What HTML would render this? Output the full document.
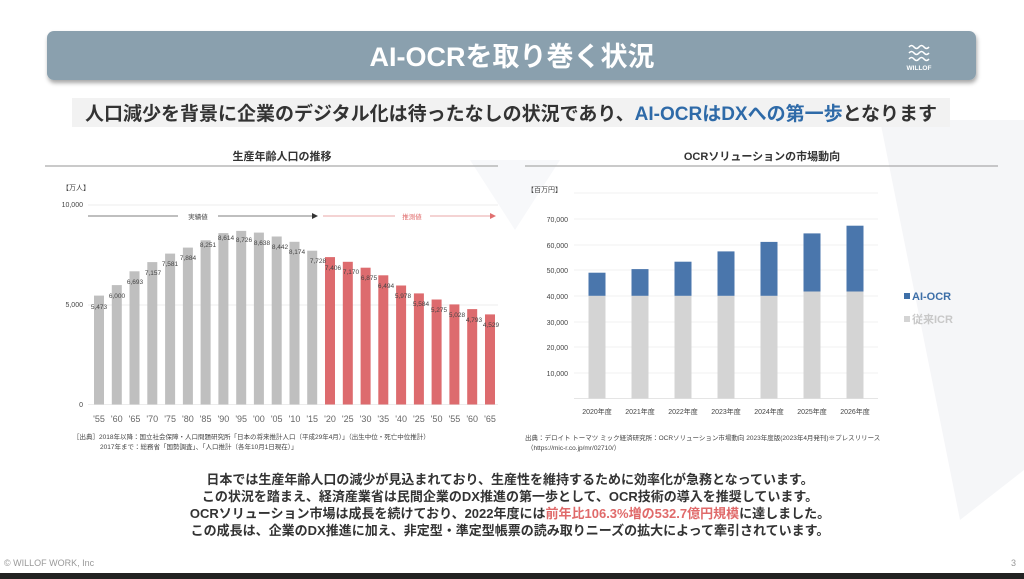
<!DOCTYPE html>
<html><head><meta charset="utf-8"><style>
html,body{margin:0;padding:0;background:#fff;width:1024px;height:579px;overflow:hidden}
svg{display:block;font-family:"Liberation Sans","Noto Sans CJK JP",sans-serif}
</style></head><body>
<svg width="1024" height="579" viewBox="0 0 1024 579">
<defs><filter id="sh" x="-5%" y="-20%" width="110%" height="160%"><feDropShadow dx="1" dy="3" stdDeviation="2" flood-color="#000" flood-opacity="0.35"/></filter></defs>
<rect width="1024" height="579" fill="#fff"/>
<polygon points="470,160 560,160 515,230" fill="#f7f8fa"/>
<polygon points="880,120 1024,120 1024,470 960,520" fill="#f5f6f8"/>
<rect x="47" y="31" width="929" height="49" rx="7" fill="#8aa0ae" filter="url(#sh)"/>
<text x="512" y="66" text-anchor="middle" font-size="27" font-weight="bold" fill="#fff">AI-OCRを取り巻く状況</text>
<g stroke="#fff" stroke-width="1.6" fill="none">
<path d="M909,47 q2.5,-3 5,0 t5,0 t5,0 t5,0"/>
<path d="M909,53 q2.5,-3 5,0 t5,0 t5,0 t5,0"/>
<path d="M909,59 q2.5,-3 5,0 t5,0 t5,0 t5,0"/>
</g>
<text x="919" y="70" text-anchor="middle" font-size="6.5" font-weight="bold" fill="#fff">WILLOF</text>
<rect x="72" y="98" width="878" height="29" fill="#f2f2f2"/>
<text x="511" y="120" text-anchor="middle" font-size="19" font-weight="bold" fill="#333">人口減少を背景に企業のデジタル化は待ったなしの状況であり、<tspan fill="#2e6aa8">AI-OCRはDXへの第一歩</tspan>となります</text>
<text x="282" y="160" text-anchor="middle" font-size="11" font-weight="bold" fill="#333">生産年齢人口の推移</text>
<line x1="45" y1="166" x2="498" y2="166" stroke="#aaa" stroke-width="1.2"/>
<text x="762" y="160" text-anchor="middle" font-size="11" font-weight="bold" fill="#333">OCRソリューションの市場動向</text>
<line x1="525" y1="166" x2="998" y2="166" stroke="#aaa" stroke-width="1.2"/>
<!-- left chart -->
<g font-size="7" fill="#444">
<text x="62" y="190">【万人】</text>
<text x="83" y="207" text-anchor="end">10,000</text>
<text x="83" y="307" text-anchor="end">5,000</text>
<text x="83" y="407" text-anchor="end">0</text>
</g>
<g stroke="#e6e6e6" stroke-width="0.8"><line x1="88" y1="205" x2="498" y2="205"/><line x1="88" y1="305" x2="498" y2="305"/><line x1="88" y1="404.5" x2="498" y2="404.5"/></g>
<line x1="88" y1="216" x2="178" y2="216" stroke="#555" stroke-width="0.7"/>
<line x1="218" y1="216" x2="312" y2="216" stroke="#555" stroke-width="0.7"/>
<polygon points="312,213 318,216 312,219" fill="#333"/>
<text x="198" y="219" text-anchor="middle" font-size="6.5" fill="#444">実績値</text>
<line x1="323" y1="216" x2="395" y2="216" stroke="#e08a8a" stroke-width="0.7"/>
<line x1="430" y1="216" x2="490" y2="216" stroke="#e08a8a" stroke-width="0.7"/>
<polygon points="490,213 496,216 490,219" fill="#e07070"/>
<text x="412" y="219" text-anchor="middle" font-size="6.5" fill="#e06a6a">推測値</text>
<g fill="#bfbfbf">
<rect x="94" y="295.6" width="10" height="108.9"/>
<rect x="111.8" y="285.1" width="10" height="119.4"/>
<rect x="129.5" y="271.3" width="10" height="133.2"/>
<rect x="147.3" y="262.1" width="10" height="142.4"/>
<rect x="165.1" y="253.6" width="10" height="150.9"/>
<rect x="182.9" y="247.6" width="10" height="156.9"/>
<rect x="200.6" y="240.3" width="10" height="164.2"/>
<rect x="218.4" y="233.1" width="10" height="171.4"/>
<rect x="236.2" y="230.9" width="10" height="173.6"/>
<rect x="253.9" y="232.6" width="10" height="171.9"/>
<rect x="271.7" y="236.5" width="10" height="168.0"/>
<rect x="289.5" y="241.8" width="10" height="162.7"/>
<rect x="307.2" y="250.7" width="10" height="153.8"/>
</g>
<g fill="#dd6b6e">
<rect x="325" y="257.1" width="10" height="147.4"/>
<rect x="342.8" y="261.8" width="10" height="142.7"/>
<rect x="360.6" y="267.7" width="10" height="136.8"/>
<rect x="378.3" y="275.3" width="10" height="129.2"/>
<rect x="396.1" y="285.5" width="10" height="119.0"/>
<rect x="413.9" y="293.4" width="10" height="111.1"/>
<rect x="431.6" y="299.5" width="10" height="105.0"/>
<rect x="449.4" y="304.4" width="10" height="100.1"/>
<rect x="467.2" y="309.1" width="10" height="95.4"/>
<rect x="485" y="314.4" width="10" height="90.1"/>
</g>
<g font-size="6.5" fill="#444" text-anchor="middle">
<text x="99" y="309">5,473</text>
<text x="117" y="298">6,000</text>
<text x="135" y="284">6,693</text>
<text x="153" y="275">7,157</text>
<text x="170" y="266">7,581</text>
<text x="188" y="260">7,884</text>
<text x="208" y="247">8,251</text>
<text x="226" y="240">8,614</text>
<text x="244" y="242">8,726</text>
<text x="262" y="245">8,638</text>
<text x="280" y="249">8,442</text>
<text x="297" y="254">8,174</text>
<text x="318" y="263">7,728</text>
<text x="333" y="270">7,406</text>
<text x="351" y="274">7,170</text>
<text x="369" y="280">6,875</text>
<text x="386" y="288">6,494</text>
<text x="403" y="298">5,978</text>
<text x="421" y="306">5,584</text>
<text x="439" y="312">5,275</text>
<text x="457" y="317">5,028</text>
<text x="474" y="322">4,793</text>
<text x="491" y="327">4,529</text>
</g>
<g font-size="9" fill="#666" text-anchor="middle">
<text x="99" y="422">'55</text><text x="116.8" y="422">'60</text><text x="134.5" y="422">'65</text><text x="152.3" y="422">'70</text><text x="170.1" y="422">'75</text><text x="187.9" y="422">'80</text><text x="205.6" y="422">'85</text><text x="223.4" y="422">'90</text><text x="241.2" y="422">'95</text><text x="258.9" y="422">'00</text><text x="276.7" y="422">'05</text><text x="294.5" y="422">'10</text><text x="312.2" y="422">'15</text><text x="330" y="422">'20</text><text x="347.8" y="422">'25</text><text x="365.6" y="422">'30</text><text x="383.3" y="422">'35</text><text x="401.1" y="422">'40</text><text x="418.9" y="422">'25</text><text x="436.6" y="422">'50</text><text x="454.4" y="422">'55</text><text x="472.2" y="422">'60</text><text x="490" y="422">'65</text>
</g>
<g font-size="6.5" fill="#444">
<text x="73" y="439">［出典］2018年以降：国立社会保障・人口問題研究所「日本の将来推計人口（平成29年4月）」（出生中位・死亡中位推計）</text>
<text x="100" y="449">2017年まで：総務省「国勢調査」、「人口推計（各年10月1日現在）」</text>
</g>
<!-- right chart -->
<g font-size="7" fill="#444">
<text x="527" y="192">【百万円】</text>
<text x="568" y="222" text-anchor="end">70,000</text>
<text x="568" y="248" text-anchor="end">60,000</text>
<text x="568" y="273" text-anchor="end">50,000</text>
<text x="568" y="299" text-anchor="end">40,000</text>
<text x="568" y="325" text-anchor="end">30,000</text>
<text x="568" y="350" text-anchor="end">20,000</text>
<text x="568" y="376" text-anchor="end">10,000</text>
</g>
<g stroke="#eee" stroke-width="0.8">
<line x1="574" y1="193" x2="878" y2="193"/><line x1="574" y1="219" x2="878" y2="219"/><line x1="574" y1="245" x2="878" y2="245"/><line x1="574" y1="270" x2="878" y2="270"/><line x1="574" y1="296" x2="878" y2="296"/><line x1="574" y1="322" x2="878" y2="322"/><line x1="574" y1="347" x2="878" y2="347"/><line x1="574" y1="373" x2="878" y2="373"/><line x1="574" y1="398.5" x2="878" y2="398.5" stroke="#ddd"/>
</g>
<g fill="#d4d4d4">
<rect x="588.5" y="295.8" width="17" height="102.7"/>
<rect x="631.5" y="295.8" width="17" height="102.7"/>
<rect x="674.5" y="295.8" width="17" height="102.7"/>
<rect x="717.5" y="295.8" width="17" height="102.7"/>
<rect x="760.5" y="295.8" width="17" height="102.7"/>
<rect x="803.5" y="291.5" width="17" height="107"/>
<rect x="846.5" y="291.5" width="17" height="107"/>
</g>
<g fill="#4a76ac">
<rect x="588.5" y="272.7" width="17" height="23.1"/>
<rect x="631.5" y="269.1" width="17" height="26.7"/>
<rect x="674.5" y="261.7" width="17" height="34.1"/>
<rect x="717.5" y="251.4" width="17" height="44.4"/>
<rect x="760.5" y="241.9" width="17" height="53.9"/>
<rect x="803.5" y="233.4" width="17" height="58.1"/>
<rect x="846.5" y="225.7" width="17" height="65.8"/>
</g>
<g font-size="7" fill="#444" text-anchor="middle">
<text x="597" y="414">2020年度</text><text x="640" y="414">2021年度</text><text x="683" y="414">2022年度</text><text x="726" y="414">2023年度</text><text x="769" y="414">2024年度</text><text x="812" y="414">2025年度</text><text x="855" y="414">2026年度</text>
</g>
<rect x="904" y="293" width="6" height="6" fill="#3d6fa8"/>
<text x="912" y="300" font-size="11" font-weight="bold" fill="#3d6fa8">AI-OCR</text>
<rect x="904" y="316" width="6" height="6" fill="#d4d4d4"/>
<text x="912" y="323" font-size="11" font-weight="bold" fill="#c8c8c8">従来ICR</text>
<g font-size="6.5" fill="#444">
<text x="525" y="440">出典：デロイト トーマツ ミック経済研究所：OCRソリューション市場動向 2023年度版(2023年4月発刊)※プレスリリース</text>
<text x="527" y="450">（https://mic-r.co.jp/mr/02710/）</text>
</g>
<g font-size="13" font-weight="bold" fill="#333" text-anchor="middle">
<text x="510" y="484">日本では生産年齢人口の減少が見込まれており、生産性を維持するために効率化が急務となっています。</text>
<text x="510" y="501">この状況を踏まえ、経済産業省は民間企業のDX推進の第一歩として、OCR技術の導入を推奨しています。</text>
<text x="510" y="518">OCRソリューション市場は成長を続けており、2022年度には<tspan fill="#e06a6a">前年比106.3%増の532.7億円規模</tspan>に達しました。</text>
<text x="510" y="535">この成長は、企業のDX推進に加え、非定型・準定型帳票の読み取りニーズの拡大によって牽引されています。</text>
</g>
<text x="4" y="566" font-size="9" fill="#999">© WILLOF WORK, Inc</text>
<text x="1016" y="566" font-size="9" fill="#999" text-anchor="end">3</text>
<rect x="0" y="573" width="1024" height="6" fill="#222"/>
</svg>
</body></html>
